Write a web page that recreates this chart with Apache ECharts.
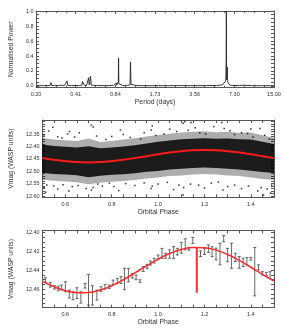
<!DOCTYPE html>
<html><head><meta charset="utf-8">
<script src="https://cdn.jsdelivr.net/npm/echarts@6/dist/echarts.min.js"></script>
<style>html,body{margin:0;padding:0;background:#fff}#c{width:284px;height:330px}</style>
</head><body><div id="c"></div>
<script>
// ---------- Panel 1: periodogram ----------
const periodTickLabels = ['0.20','0.41','0.84','1.73','3.56','7.30','15.00'];
const periodDays = [0.200,0.215,0.230,0.245,0.258,0.262,0.266,0.280,0.300,0.316,0.319,0.322,0.335,0.347,0.351,0.355,0.380,0.410,0.440,0.460,0.465,0.470,0.475,0.480,0.500,0.515,0.519,0.522,0.526,0.532,0.537,0.541,0.545,0.560,0.600,0.650,0.700,0.760,0.820,0.850,0.858,0.866,0.880,0.890,0.894,0.898,0.920,0.960,1.000,1.050,1.100,1.110,1.120,1.150,1.250,1.400,1.730,2.200,2.800,3.560,4.400,5.300,5.900,6.100,6.200,6.260,6.300,6.320,6.340,6.380,6.420,6.440,6.470,6.520,6.600,6.800,7.300,8.000,8.500,8.560,8.650,10.00,12.00,15.00];
const powerNorm = [0.005,0.004,0.006,0.005,0.008,0.045,0.006,0.005,0.006,0.008,0.020,0.006,0.007,0.010,0.068,0.008,0.005,0.006,0.006,0.010,0.060,0.080,0.040,0.008,0.006,0.010,0.110,0.050,0.012,0.060,0.130,0.140,0.010,0.008,0.006,0.005,0.005,0.006,0.008,0.012,0.040,0.010,0.012,0.060,0.370,0.030,0.010,0.008,0.006,0.008,0.015,0.320,0.020,0.008,0.005,0.004,0.004,0.004,0.005,0.004,0.006,0.006,0.015,0.030,0.060,0.100,0.400,1.000,0.300,0.080,0.250,0.120,0.070,0.040,0.020,0.010,0.006,0.006,0.010,0.020,0.008,0.005,0.004,0.004];
const powerTicks = [0,0.2,0.4,0.6,0.8,1.0];

// ---------- Panel 2: all photometry ----------
const phaseTicks = [0.6,0.8,1.0,1.2,1.4];
const magTicksAll = [12.35,12.40,12.45,12.50,12.55,12.60];
const modelPhase = [0.50,0.55,0.60,0.65,0.70,0.75,0.80,0.85,0.90,0.95,1.00,1.05,1.10,1.15,1.20,1.25,1.30,1.35,1.40,1.45,1.50];
const modelMagAll = [12.4471,12.4541,12.4596,12.4632,12.4644,12.4632,12.4596,12.4541,12.4471,12.4394,12.4317,12.4247,12.4192,12.4156,12.4144,12.4156,12.4192,12.4247,12.4317,12.4394,12.4471];
const coreTop    = [12.392,12.398,12.401,12.404,12.399,12.407,12.404,12.400,12.395,12.388,12.381,12.376,12.371,12.369,12.367,12.369,12.368,12.371,12.372,12.381,12.390];
const coreBottom = [12.506,12.511,12.513,12.516,12.524,12.518,12.514,12.512,12.508,12.502,12.499,12.493,12.490,12.487,12.485,12.487,12.490,12.493,12.498,12.503,12.507];
const fringeTop    = [12.366,12.372,12.375,12.378,12.368,12.382,12.378,12.372,12.367,12.360,12.354,12.349,12.344,12.341,12.339,12.343,12.341,12.345,12.344,12.355,12.365];
const fringeBottom = [12.534,12.538,12.541,12.545,12.553,12.547,12.543,12.539,12.535,12.529,12.525,12.519,12.517,12.513,12.511,12.513,12.517,12.519,12.525,12.531,12.535];
const outlierPhase = [0.508,0.528,0.546,0.567,0.585,0.610,0.618,0.640,0.660,0.7125,0.720,0.735,0.775,0.800,0.8375,0.850,0.880,0.925,0.940,0.970,0.975,0.990,1.025,1.050,1.080,1.108,1.115,1.130,1.142,1.160,1.180,1.205,1.240,1.275,1.285,1.310,1.330,1.360,1.386,1.400,1.410,1.440,1.460,1.480,
  0.508,0.515,0.520,0.550,0.567,0.590,0.615,0.630,0.655,0.690,0.7125,0.720,0.740,0.760,0.790,0.810,0.830,0.860,0.900,0.940,0.970,0.975,1.000,1.040,1.067,1.090,1.108,1.110,1.140,1.175,1.200,1.230,1.260,1.280,1.300,1.330,1.360,1.390,1.430,1.445,1.455,1.470,1.485,1.490];
const outlierMag = [12.354,12.338,12.323,12.361,12.366,12.350,12.340,12.362,12.345,12.314,12.322,12.358,12.372,12.360,12.334,12.352,12.364,12.370,12.345,12.334,12.318,12.356,12.350,12.330,12.340,12.307,12.300,12.335,12.304,12.325,12.345,12.350,12.320,12.304,12.328,12.337,12.352,12.345,12.348,12.330,12.362,12.328,12.355,12.370,
  12.566,12.585,12.556,12.560,12.572,12.555,12.580,12.562,12.558,12.570,12.576,12.566,12.552,12.560,12.548,12.562,12.578,12.550,12.558,12.548,12.570,12.560,12.552,12.545,12.574,12.556,12.596,12.566,12.552,12.556,12.568,12.548,12.544,12.576,12.562,12.556,12.570,12.560,12.580,12.566,12.596,12.572,12.588,12.556];

// ---------- Panel 3: binned photometry ----------
const magTicksBinned = [12.40,12.42,12.44,12.46];
const modelMagBinned = [12.4515,12.4574,12.4617,12.4638,12.4636,12.4610,12.4564,12.4501,12.4428,12.4353,12.4281,12.4222,12.4179,12.4158,12.4160,12.4186,12.4232,12.4295,12.4368,12.4443,12.4515];
const binPhase = [0.514,0.535,0.553,0.569,0.583,0.600,0.617,0.633,0.650,0.667,0.685,0.700,0.717,0.736,0.754,0.771,0.789,0.806,0.824,0.840,0.855,0.872,0.889,0.905,0.922,0.936,0.953,0.967,0.983,1.000,1.017,1.033,1.050,1.067,1.083,1.100,1.117,1.133,1.150,1.183,1.200,1.217,1.233,1.250,1.267,1.283,1.300,1.317,1.333,1.350,1.367,1.383,1.400,1.417,1.433,1.450,1.467,1.483];
const binMag = [12.4504,12.4554,12.4582,12.4593,12.4582,12.4575,12.4653,12.4671,12.4643,12.4689,12.4564,12.4607,12.4667,12.4664,12.4600,12.4575,12.4575,12.4529,12.4511,12.4504,12.4493,12.4451,12.4458,12.4476,12.4515,12.4387,12.4359,12.4323,12.4298,12.4263,12.4220,12.4245,12.4227,12.4210,12.4202,12.4160,12.4124,12.4174,12.4082,12.4224,12.4199,12.4170,12.4202,12.4227,12.4227,12.4064,12.4238,12.4245,12.4263,12.4316,12.4316,12.4305,12.4277,12.4415,12.4369,12.4433,12.4440,12.4451];
const binErr = [0.0025,0.0025,0.0018,0.0025,0.0025,0.0053,0.0043,0.0043,0.0057,0.0060,0.0025,0.0163,0.0103,0.0053,0.0025,0.0025,0.0018,0.0025,0.0025,0.0036,0.0114,0.0071,0.0025,0.0025,0.0014,0.0025,0.0021,0.0021,0.0025,0.0025,0.0053,0.0027,0.0044,0.0064,0.0036,0.0058,0.0058,0.0012,0.0032,0.0030,0.0032,0.0040,0.0053,0.0062,0.0115,0.0032,0.0071,0.0133,0.0044,0.0062,0.0044,0.0040,0.0014,0.0257,0.0027,0.0018,0.0018,0.0036];
const markerPhase = [1.167,1.167];
const markerMag = [12.4157,12.464];

// ---------- build ----------
const FRAME = '#555', TXT = '#333', FONT = 'Liberation Sans';
const P0 = 0.2, P1 = 15, NDEC = periodTickLabels.length - 1;
const toU = p => Math.log(p / P0) / Math.log(P1 / P0) * NDEC;
function range(a, b, s) { const r = []; for (let v = a; v <= b + 1e-9; v += s) r.push(+v.toFixed(4)); return r; }

function axisPair(dim, gi, cfg) {
  const base = {
    gridIndex: gi, type: 'value', min: cfg.min, max: cfg.max, inverse: !!cfg.inverse,
    splitLine: { show: false },
    axisLine: { show: true, onZero: false, lineStyle: { color: FRAME, width: 1 } },
    axisTick: Object.assign({ show: true, inside: true, length: 3, lineStyle: { color: FRAME, width: 1 } }, cfg.tick),
    minorTick: cfg.minor || { show: false },
  };
  if (cfg.interval) base.interval = cfg.interval;
  const main = Object.assign({}, base, {
    position: dim === 'x' ? 'bottom' : 'left',
    name: cfg.name, nameLocation: 'middle', nameGap: cfg.nameGap,
    nameTextStyle: { fontFamily: FONT, fontSize: 6.8, color: TXT },
    axisLabel: Object.assign({ show: true, fontFamily: FONT, fontSize: 5.5, color: TXT, margin: dim === 'x' ? 4 : 2.5 }, cfg.label)
  });
  const mirror = Object.assign({}, base, { position: dim === 'x' ? 'top' : 'right', axisLabel: { show: false } });
  return [main, mirror];
}

const xAxes = [].concat(
  axisPair('x', 0, { min: 0, max: NDEC, interval: 1, name: 'Period (days)', nameGap: 8.5,
    minor: { show: true, splitNumber: 4, length: 2, lineStyle: { color: FRAME } },
    label: { formatter: v => periodTickLabels[Math.round(v)] } }),
  axisPair('x', 1, { min: 0.5, max: 1.5, name: 'Orbital Phase', nameGap: 10,
    tick: { customValues: range(0.55, 1.45, 0.05) },
    label: { customValues: phaseTicks, formatter: v => v.toFixed(1) } }),
  axisPair('x', 2, { min: 0.5, max: 1.5, name: 'Orbital Phase', nameGap: 11,
    tick: { customValues: range(0.55, 1.45, 0.05) },
    label: { customValues: phaseTicks, formatter: v => v.toFixed(1) } })
);
const yAxes = [].concat(
  axisPair('y', 0, { min: -0.023, max: 1.0, name: 'Normalised Power', nameGap: 15,
    tick: { customValues: range(0, 1.0, 0.05) },
    label: { customValues: powerTicks, formatter: v => v.toFixed(1) } }),
  axisPair('y', 1, { min: 12.2935, max: 12.6052, inverse: true, name: 'Vmag (WASP units)', nameGap: 21,
    tick: { customValues: range(12.30, 12.60, 0.01) },
    label: { customValues: magTicksAll, formatter: v => v.toFixed(2) } }),
  axisPair('y', 2, { min: 12.3977, max: 12.4798, inverse: true, name: 'Vmag (WASP units)', nameGap: 18.5,
    tick: { customValues: range(12.40, 12.475, 0.005) },
    label: { customValues: magTicksBinned, formatter: v => v.toFixed(2) } })
);

function bandSeries(top, bottom, color) {
  return {
    type: 'custom', xAxisIndex: 2, yAxisIndex: 2, clip: true, silent: true,
    data: [[1.0, 12.45]],
    renderItem: (params, api) => {
      const pts = [];
      modelPhase.forEach((p, i) => pts.push(api.coord([p, top[i]])));
      for (let i = modelPhase.length - 1; i >= 0; i--) pts.push(api.coord([modelPhase[i], bottom[i]]));
      return { type: 'polygon', shape: { points: pts }, style: { fill: color } };
    }
  };
}

const option = {
  animation: false,
  backgroundColor: '#fff',
  grid: [
    { left: 34, top: 11, width: 240, height: 76.7 },
    { left: 34, top: 120, width: 240, height: 77.3 },
    { left: 34, top: 230.5, width: 240, height: 77.2 }
  ],
  xAxis: xAxes,
  yAxis: yAxes,
  series: [
    { type: 'line', xAxisIndex: 0, yAxisIndex: 0, symbol: 'none', clip: true,
      lineStyle: { color: '#222', width: 0.9 },
      data: periodDays.map((p, i) => [toU(p), powerNorm[i]]) },
    bandSeries(fringeTop, fringeBottom, 'rgba(0,0,0,0.32)'),
    bandSeries(coreTop, coreBottom, 'rgba(0,0,0,0.84)'),
    { type: 'scatter', xAxisIndex: 2, yAxisIndex: 2, symbol: 'rect', symbolSize: 1.5,
      itemStyle: { color: '#000' },
      data: outlierPhase.map((p, i) => [p, outlierMag[i]]) },
    { type: 'line', xAxisIndex: 2, yAxisIndex: 2, symbol: 'none', smooth: true,
      lineStyle: { color: '#ff1a1a', width: 2 },
      data: modelPhase.map((p, i) => [p, modelMagAll[i]]) },
    { type: 'custom', xAxisIndex: 4, yAxisIndex: 4,
      data: binPhase.map((p, i) => [p, binMag[i], binErr[i]]),
      renderItem: (params, api) => {
        const x = api.value(0), y = api.value(1), e = api.value(2);
        const a = api.coord([x, y - e]), b = api.coord([x, y + e]);
        const st = { stroke: '#555', lineWidth: 0.9 };
        return { type: 'group', children: [
          { type: 'line', shape: { x1: a[0], y1: a[1], x2: b[0], y2: b[1] }, style: st },
          { type: 'line', shape: { x1: a[0] - 1.5, y1: a[1], x2: a[0] + 1.5, y2: a[1] }, style: st },
          { type: 'line', shape: { x1: b[0] - 1.5, y1: b[1], x2: b[0] + 1.5, y2: b[1] }, style: st }
        ] };
      } },
    { type: 'line', xAxisIndex: 4, yAxisIndex: 4, symbol: 'none', smooth: true,
      lineStyle: { color: '#ff2a2a', width: 1.5 },
      data: modelPhase.map((p, i) => [p, modelMagBinned[i]]) },
    { type: 'line', xAxisIndex: 4, yAxisIndex: 4, symbol: 'none',
      lineStyle: { color: '#ff2a2a', width: 2 },
      data: markerPhase.map((p, i) => [p, markerMag[i]]) }
  ]
};
const chart = echarts.init(document.getElementById('c'), null, { renderer: 'canvas' });
chart.setOption(option);
</script>
</body></html>
